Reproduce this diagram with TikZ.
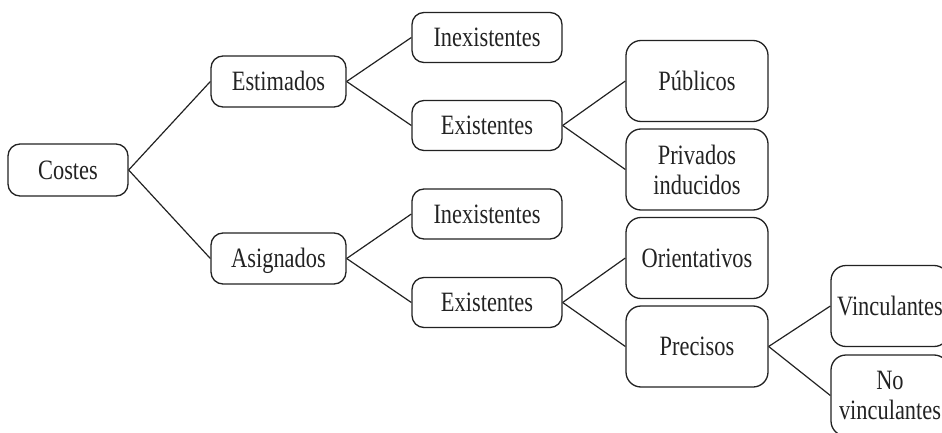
\documentclass[tikz,border=0pt]{standalone}
\usepackage{fontspec}
\setmainfont{Liberation Serif}[FakeStretch=0.8]
\definecolor{ink}{HTML}{222222}
\begin{document}
\begin{tikzpicture}[x=1pt,y=-1pt,
  box/.style={draw=ink, line width=1.3pt, rounded corners=12pt, inner sep=0pt,
    align=center, text=ink, font=\fontsize{28}{30}\selectfont},
  oneline/.style={text height=18.5pt, text depth=0pt},
  rootbox/.style={box, oneline, minimum width=120pt, minimum height=52pt},
  midbox/.style={box, oneline, minimum width=135pt, minimum height=51pt},
  subbox/.style={box, oneline, minimum width=150pt, minimum height=50pt},
  tallbox/.style={box, rounded corners=15pt, minimum width=142pt, minimum height=81pt},
  leafbox/.style={box, rounded corners=15pt, minimum width=118pt, minimum height=81pt},
  conn/.style={draw=ink, line width=1.2pt}
]
\useasboundingbox (0,0) rectangle (942,433);
\clip (0,0) rectangle (942,433);

% root
\node[rootbox] (costes) at (68,170) {Costes};

% first level
\node[midbox] (est) at (278.5,81.5) {Estimados};
\node[midbox] (asig) at (278.5,258.5) {Asignados};

% second level
\node[subbox] (inex1) at (487,37.5) {Inexistentes};
\node[subbox] (ex1) at (487,125.5) {Existentes};
\node[subbox] (inex2) at (487,214) {Inexistentes};
\node[subbox] (ex2) at (487,302.5) {Existentes};

% third level
\node[tallbox, oneline] (pub) at (697,81) {Públicos};
\node[tallbox] (priv) at (697,169.5) {Privados\\inducidos};
\node[tallbox, oneline] (orient) at (697,258) {Orientativos};
\node[tallbox, oneline] (prec) at (697,346.5) {Precisos};

% fourth level
\node[leafbox, oneline] (vinc) at (890,306) {Vinculantes};
\node[leafbox] (novinc) at (890,395.5) {No\\vinculantes};

% connectors
\draw[conn] (costes.east) -- (est.west);
\draw[conn] (costes.east) -- (asig.west);
\draw[conn] (est.east) -- (inex1.west);
\draw[conn] (est.east) -- (ex1.west);
\draw[conn] (asig.east) -- (inex2.west);
\draw[conn] (asig.east) -- (ex2.west);
\draw[conn] (ex1.east) -- (pub.west);
\draw[conn] (ex1.east) -- (priv.west);
\draw[conn] (ex2.east) -- (orient.west);
\draw[conn] (ex2.east) -- (prec.west);
\draw[conn] (prec.east) -- (vinc.west);
\draw[conn] (prec.east) -- (novinc.west);
\end{tikzpicture}
\end{document}
